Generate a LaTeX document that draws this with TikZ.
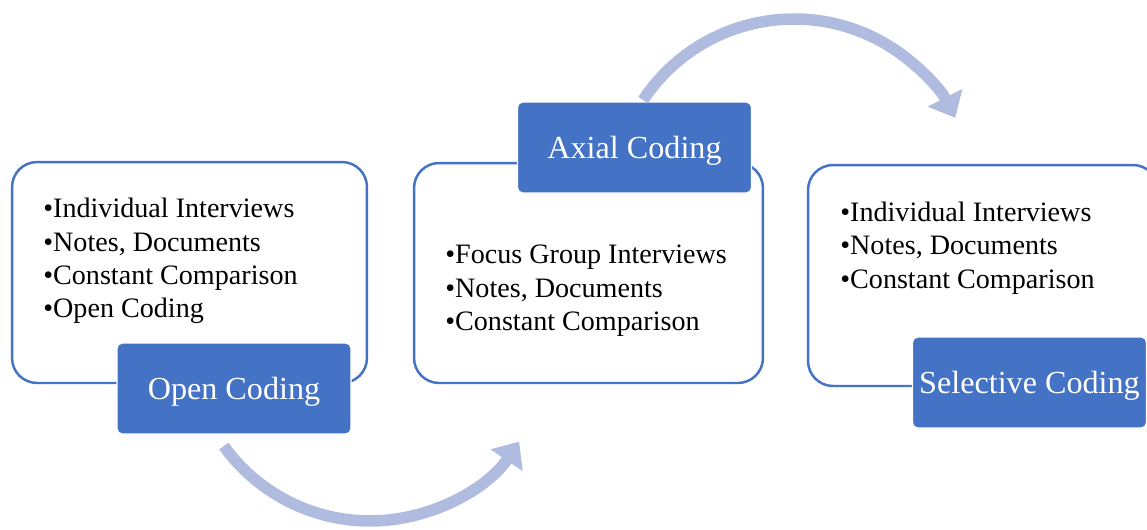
\documentclass[tikz,border=0pt]{standalone}
\usepackage{fontspec}
\setmainfont{Liberation Serif}
\usepackage{xcolor}
\usepackage{tikz}
\usetikzlibrary{arrows.meta}
\definecolor{accent}{RGB}{68,114,196}
\definecolor{flow}{RGB}{176,188,223}
\tikzstyle{panel} = [rectangle, draw=accent, line width=1.4pt, fill=white, rounded corners=0.5cm]
\tikzstyle{stage} = [rectangle, draw=white, line width=0.8pt, fill=accent, rounded corners=0.1cm, text=white, font=\fontsize{18.3}{22}\selectfont, text height=17pt, text depth=4pt, minimum width=4.68cm, minimum height=1.82cm]
\tikzstyle{bullets} = [align=left, anchor=west, inner sep=0pt, font=\fontsize{16}{19}\selectfont]
\tikzstyle{curve} = [draw=flow, line width=0.23cm, -{Triangle[length=0.45cm,width=0.75cm]}]

\begin{document}
\begin{tikzpicture}[x=0.02cm,y=-0.02cm]
\useasboundingbox (0,0) rectangle (1147,529);
\node [panel, minimum width=7.1cm, minimum height=4.42cm] (open-panel) at (189.5,272.5) {};
\node [panel, minimum width=6.98cm, minimum height=4.4cm] (axial-panel) at (588.5,273) {};
\node [panel, minimum width=7cm, minimum height=4.42cm] (selective-panel) at (983,275.5) {};
\node [bullets] (open-list) at (43,261) {•Individual Interviews\\•Notes, Documents\\•Constant Comparison\\•Open Coding};
\node [bullets] (axial-list) at (445,291) {•Focus Group Interviews\\•Notes, Documents\\•Constant Comparison};
\node [bullets] (selective-list) at (840,248) {•Individual Interviews\\•Notes, Documents\\•Constant Comparison};
\node [stage] (open) at (234,388.5) {Open Coding};
\node [stage] (axial) at (634.5,147.5) {Axial Coding};
\node [stage] (selective) at (1029.5,382.5) {Selective Coding};
\coordinate (open-out) at (223.8,446);
\coordinate (axial-out) at (643.1,100.1);
\path [curve] (open-out) arc [start angle=215.7, end angle=326, radius=3.6cm];
\path [curve] (axial-out) arc [start angle=146.5, end angle=27, radius=3.62cm];
\end{tikzpicture}
\end{document}
